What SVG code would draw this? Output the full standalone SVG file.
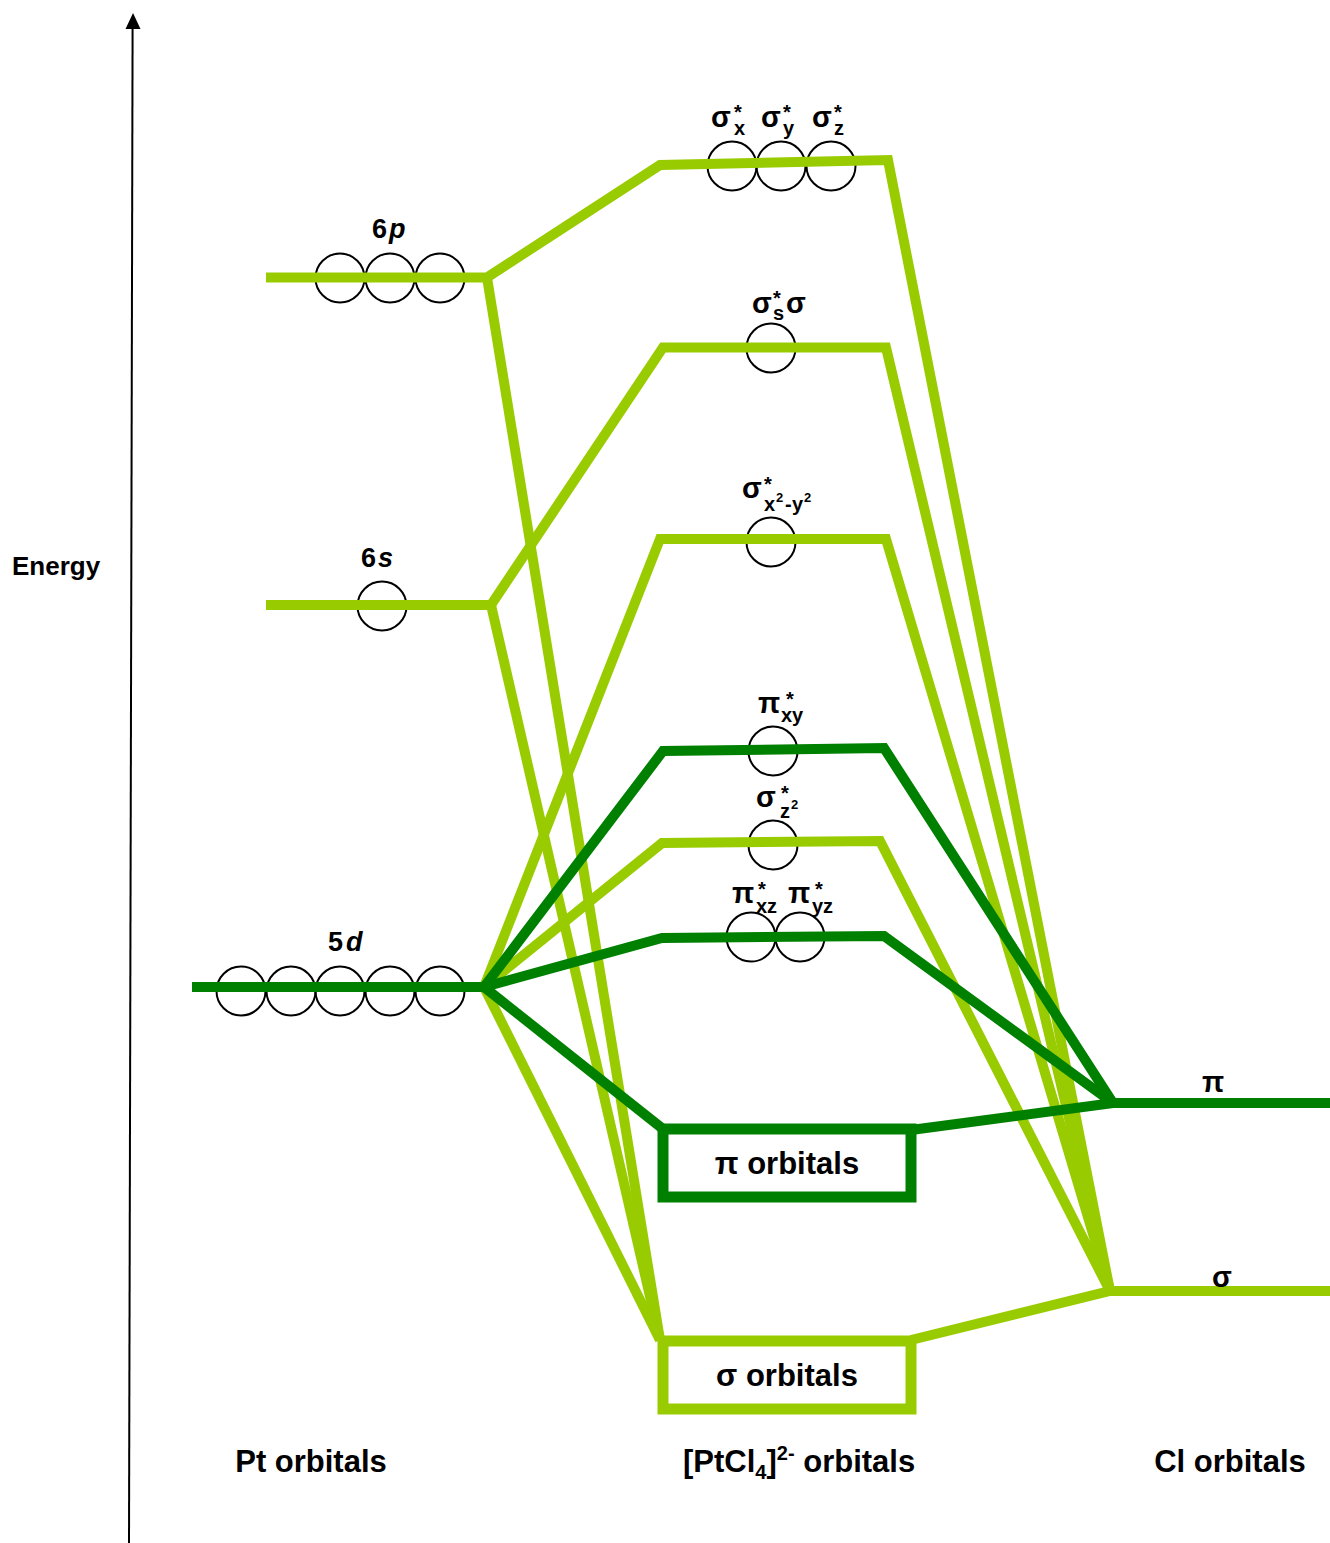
<svg xmlns="http://www.w3.org/2000/svg" width="1330" height="1543" viewBox="0 0 1330 1543">
  <style>
    text { font-family: "Liberation Sans", Arial, sans-serif; font-weight: bold; fill: #000; }
    .lbl { font-size: 29px; }
    .lvl { font-size: 27px; }
    .sm { font-size: 20px; }
    .tiny { font-size: 13px; }
    .axis { font-size: 26px; }
    .col { font-size: 31px; }
    .orb { fill: none; stroke: #000; stroke-width: 2; }
    .sig { fill: none; stroke: #99CC00; stroke-width: 10; stroke-linejoin: miter; stroke-miterlimit: 10; }
    .pi { fill: none; stroke: #008000; stroke-width: 10; stroke-linejoin: miter; stroke-miterlimit: 10; }
    .box-sig { fill: #fff; stroke: #99CC00; stroke-width: 11; }
    .box-pi { fill: #fff; stroke: #008000; stroke-width: 11; }
  </style>

  <!-- energy axis -->
  <g id="energy-axis">
    <line x1="129" y1="1543" x2="132.6" y2="26" stroke="#000" stroke-width="2"/>
    <polygon points="133,13 125.5,29 140.5,29" fill="#000"/>
    <text class="axis" x="12" y="575">Energy</text>
  </g>

  <!-- orbital circles (drawn beneath the level lines) -->
  <g id="orbital-circles">
    <circle class="orb" cx="340" cy="278" r="24.5"/>
    <circle class="orb" cx="390" cy="278" r="24.5"/>
    <circle class="orb" cx="440" cy="278" r="24.5"/>
    <circle class="orb" cx="382" cy="606" r="24.5"/>
    <circle class="orb" cx="241" cy="991" r="24.5"/>
    <circle class="orb" cx="291" cy="991" r="24.5"/>
    <circle class="orb" cx="340" cy="991" r="24.5"/>
    <circle class="orb" cx="390" cy="991" r="24.5"/>
    <circle class="orb" cx="440" cy="991" r="24.5"/>
    <circle class="orb" cx="732" cy="166" r="24.5"/>
    <circle class="orb" cx="781" cy="166" r="24.5"/>
    <circle class="orb" cx="831" cy="166" r="24.5"/>
    <circle class="orb" cx="771" cy="348" r="24.5"/>
    <circle class="orb" cx="771" cy="542" r="24.5"/>
    <circle class="orb" cx="773" cy="751" r="24.5"/>
    <circle class="orb" cx="773" cy="845" r="24.5"/>
    <circle class="orb" cx="751" cy="937" r="24.5"/>
    <circle class="orb" cx="800" cy="937" r="24.5"/>
  </g>

  <!-- correlation lines -->
  <g id="connectors">
    <!-- sigma-type (light green) -->
    <polyline class="sig" points="266,277.5 487,277.5 660,165 888,160 1110,1291"/>
    <polyline class="sig" points="487,277.5 660,1340"/>
    <polyline class="sig" points="266,605 491,605 663,347.5 886,347.5 1110,1291"/>
    <polyline class="sig" points="491,605 660,1340"/>
    <polyline class="sig" points="484,987 660,539 886,539 1110,1291"/>
    <polyline class="sig" points="484,987 662,843 880,841 1110,1291"/>
    <polyline class="sig" points="484,987 660,1340"/>
    <polyline class="sig" points="911,1340 1110,1291 1330,1291"/>
    <!-- pi-type (dark green) -->
    <polyline class="pi" points="192,987 484,987 663,751 884,748 1113,1103"/>
    <polyline class="pi" points="484,987 662,938 884,936 1113,1103"/>
    <polyline class="pi" points="484,987 663,1129"/>
    <polyline class="pi" points="911,1130 1113,1103 1330,1103"/>
  </g>

  <!-- Pt atomic levels -->
  <g id="pt-6p"><text class="lvl" x="372" y="238">6<tspan x="389" font-style="italic">p</tspan></text></g>
  <g id="pt-6s"><text class="lvl" x="361" y="567">6<tspan x="378" font-style="italic">s</tspan></text></g>
  <g id="pt-5d"><text class="lvl" x="328" y="951">5<tspan x="346" font-style="italic">d</tspan></text></g>

  <!-- complex molecular orbitals -->
  <g id="mo-sigma-xyz">
    <text class="lbl" x="711" y="127">σ<tspan class="sm" x="734" y="119">*</tspan><tspan class="sm" x="734" y="135">x</tspan></text>
    <text class="lbl" x="761" y="127">σ<tspan class="sm" x="783" y="119">*</tspan><tspan class="sm" x="783" y="135">y</tspan></text>
    <text class="lbl" x="812" y="127">σ<tspan class="sm" x="834" y="119">*</tspan><tspan class="sm" x="834" y="135">z</tspan></text>
  </g>
  <g id="mo-sigma-s">
    <text class="lbl" x="752" y="313">σ<tspan class="sm" x="773" y="305">*</tspan><tspan class="sm" x="773" y="320">s</tspan><tspan x="786" y="313">σ</tspan></text>
  </g>
  <g id="mo-sigma-x2y2">
    <text class="lbl" x="742" y="498">σ<tspan class="sm" x="764" y="491">*</tspan><tspan class="sm" x="764" y="511">x</tspan><tspan class="tiny" x="776" y="502">2</tspan><tspan class="sm" x="785" y="511">-</tspan><tspan class="sm" x="792" y="511">y</tspan><tspan class="tiny" x="804" y="502">2</tspan></text>
  </g>
  <g id="mo-pi-xy">
    <text class="lbl" x="758" y="713">π<tspan class="sm" x="786" y="706">*</tspan><tspan class="sm" x="781" y="722">xy</tspan></text>
  </g>
  <g id="mo-sigma-z2">
    <text class="lbl" x="756" y="807">σ<tspan class="sm" x="781" y="800">*</tspan><tspan class="sm" x="780" y="818">z</tspan><tspan class="tiny" x="791" y="809">2</tspan></text>
  </g>
  <g id="mo-pi-xz-yz">
    <text class="lbl" x="732" y="903">π<tspan class="sm" x="758" y="896">*</tspan><tspan class="sm" x="756" y="913">xz</tspan></text>
    <text class="lbl" x="788" y="903">π<tspan class="sm" x="815" y="896">*</tspan><tspan class="sm" x="812" y="913">yz</tspan></text>
  </g>
  <g id="mo-pi-box">
    <rect class="box-pi" x="663" y="1129" width="248" height="68"/>
    <text class="col" x="787" y="1174" text-anchor="middle">π orbitals</text>
  </g>
  <g id="mo-sigma-box">
    <rect class="box-sig" x="663" y="1341" width="248" height="68"/>
    <text class="col" x="787" y="1386" text-anchor="middle">σ orbitals</text>
  </g>

  <!-- Cl group orbitals -->
  <g id="cl-pi"><text class="lbl" x="1213" y="1092" text-anchor="middle">π</text></g>
  <g id="cl-sigma"><text class="lbl" x="1222" y="1287" text-anchor="middle">σ</text></g>

  <!-- column captions -->
  <g id="captions">
    <text class="col" x="311" y="1472" text-anchor="middle">Pt orbitals</text>
    <text class="col" x="683" y="1472">[PtCl<tspan class="sm" y="1479">4</tspan><tspan y="1472">]</tspan><tspan class="sm" y="1460">2-</tspan><tspan y="1472"> orbitals</tspan></text>
    <text class="col" x="1230" y="1472" text-anchor="middle">Cl orbitals</text>
  </g>
</svg>
